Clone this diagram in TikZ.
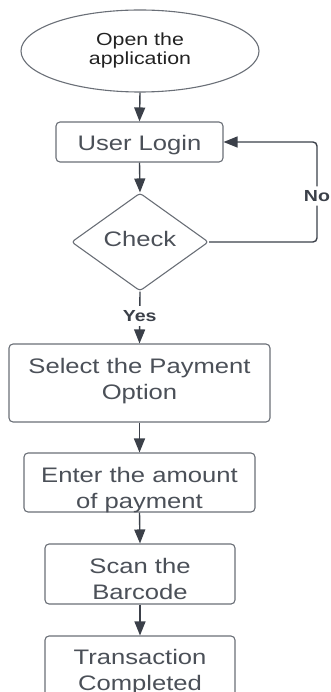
\documentclass[tikz,border=0pt]{standalone}
\usepackage{fontspec}
\setmainfont[FakeStretch=1.22]{Liberation Sans}
\usetikzlibrary{shapes.geometric,arrows.meta}
\definecolor{linec}{HTML}{3B4049}
\definecolor{boxc}{HTML}{6A6F77}
\definecolor{txtc}{HTML}{4B5058}
\definecolor{ovtxt}{HTML}{222222}
\tikzset{
  flowbox/.style={draw=boxc, line width=1.1pt, rounded corners=4pt, inner sep=0pt, fill=white},
  boxtxt/.style={text=txtc, align=center, inner sep=0pt, font=\fontsize{21}{26}\selectfont},
  conn/.style={draw=linec, line width=1.4pt, -{Triangle[width=11pt,length=14pt]}},
  lbl/.style={fill=white, text=linec, inner xsep=1pt, inner ysep=4pt, font=\fontsize{16}{18}\selectfont\bfseries},
}
\begin{document}
\begin{tikzpicture}[x=1pt,y=-1pt]
\useasboundingbox (0,0) rectangle (331,692);
\clip (0,0) rectangle (331,692);
% nodes
\node[ellipse, draw=boxc, line width=1.1pt, inner sep=0pt, minimum width=238pt, minimum height=82pt] (start) at (140,51) {};
\node[text=ovtxt, align=center, inner sep=0pt, font=\fontsize{17.5}{19}\selectfont] (starttxt) at (140,50) {Open the\\application};
\node[flowbox, minimum width=167pt, minimum height=40pt] (login) at (139.5,142) {};
\node[boxtxt] (logintxt) at (139.5,145) {User Login};
\node[diamond, draw=boxc, line width=1.1pt, inner sep=0pt, aspect=1.4, minimum width=137pt, minimum height=98pt, rounded corners=3pt] (chk) at (140,242) {};
\node[boxtxt] (chktxt) at (140,238.5) {Check};
\node[flowbox, minimum width=261pt, minimum height=78pt] (sel) at (139.5,383) {};
\node[boxtxt] (seltxt) at (139.5,381) {Select the Payment\\Option};
\node[flowbox, minimum width=231pt, minimum height=59pt] (ent) at (139.5,482.5) {};
\node[boxtxt] (enttxt) at (139.5,490.5) {Enter the amount\\of payment};
\node[flowbox, minimum width=190pt, minimum height=60pt] (scan) at (140,574) {};
\node[boxtxt] (scantxt) at (140,579.4) {Scan the\\Barcode};
\node[flowbox, minimum width=190pt, minimum height=61pt] (tran) at (140,666.5) {};
\node[boxtxt] (trantxt) at (140,672.5) {Transaction\\Completed};
% connectors
\coordinate (c1) at (317,242);
\coordinate (c2) at (317,142);
\draw[conn] (start.south) -- (login.north);
\draw[conn] (login.south) -- (chk.north);
\draw[conn, rounded corners=4pt] (chk.east) -- (c1) -- node[lbl, pos=0.46] (no) {No} (c2) -- (login.east);
\draw[conn] (chk.south) -- node[lbl, pos=0.47] (yes) {Yes} (sel.north);
\draw[conn] (sel.south) -- (ent.north);
\draw[conn] (ent.south) -- (scan.north);
\draw[conn] (scan.south) -- (tran.north);
\end{tikzpicture}
\end{document}
